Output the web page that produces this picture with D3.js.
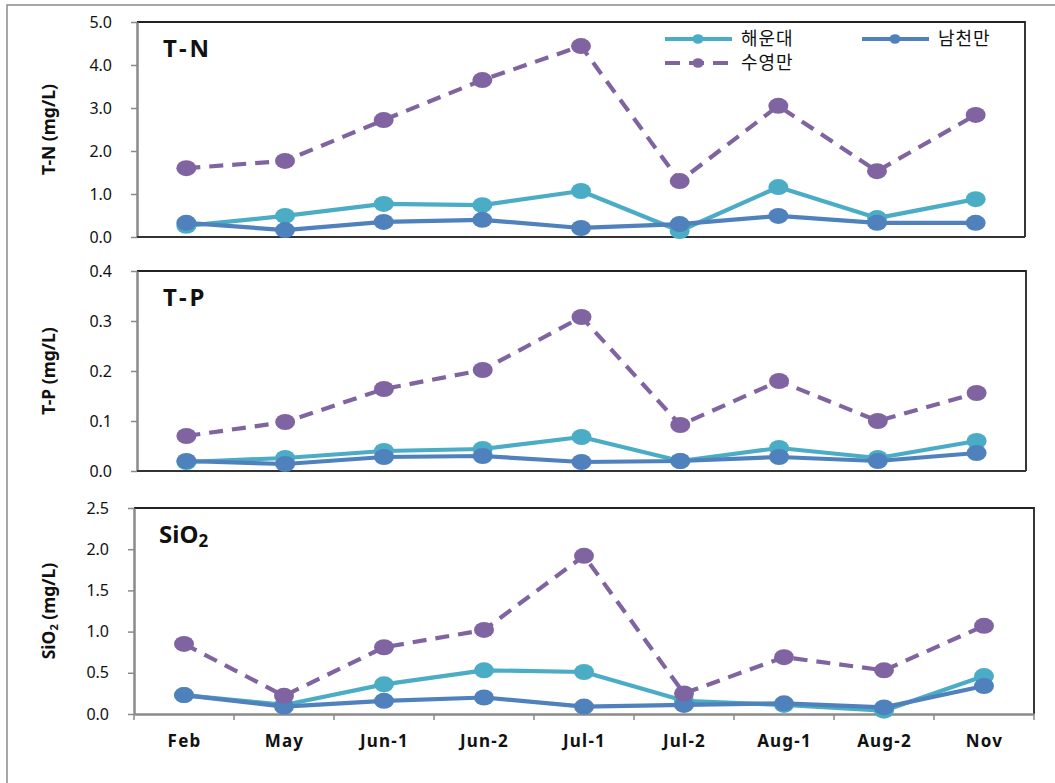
<!DOCTYPE html>
<html><head><meta charset="utf-8">
<script src="https://cdn.jsdelivr.net/npm/d3@7"></script>
<style>body{margin:0;background:#fff}svg{display:block}</style>
</head><body>
<svg id="chart" width="1055" height="783"></svg>
<script>
// ---------- data ----------
const categories = ["Feb","May","Jun-1","Jun-2","Jul-1","Jul-2","Aug-1","Aug-2","Nov"];
const seriesNames = ["해운대","남천만","수영만"];

const tnHaeundae = [0.26,0.49,0.77,0.74,1.07,0.14,1.16,0.44,0.88];
const tnNamcheon = [0.33,0.16,0.35,0.40,0.21,0.30,0.49,0.33,0.33];
const tnSuyeong  = [1.60,1.77,2.72,3.65,4.44,1.30,3.05,1.53,2.84];

const tpHaeundae = [0.018,0.026,0.040,0.044,0.068,0.020,0.046,0.026,0.060];
const tpNamcheon = [0.020,0.014,0.028,0.030,0.018,0.020,0.028,0.020,0.036];
const tpSuyeong  = [0.070,0.098,0.164,0.202,0.308,0.092,0.180,0.100,0.156];

const sioHaeundae = [0.23,0.11,0.36,0.53,0.51,0.16,0.11,0.04,0.46];
const sioNamcheon = [0.23,0.09,0.16,0.20,0.09,0.11,0.13,0.08,0.34];
const sioSuyeong  = [0.85,0.22,0.81,1.02,1.92,0.25,0.69,0.53,1.07];

const tnTicks  = [0,1,2,3,4,5];
const tpTicks  = [0,0.1,0.2,0.3,0.4];
const sioTicks = [0,0.5,1.0,1.5,2.0,2.5];

// ---------- styles / layout ----------
const colors = {"해운대":"#4BACC6","남천만":"#4F81BD","수영만":"#8064A2"};
const dashed = {"해운대":null,"남천만":null,"수영만":"14,9"};
const numFont = "'Noto Sans', 'DejaVu Sans', sans-serif";
const krFont = "'Noto Sans CJK KR', 'Noto Sans', sans-serif";

const panels = [
  {name:"T-N", unit:"(mg/L)", sub:false, data:[tnHaeundae,tnNamcheon,tnSuyeong], ticks:tnTicks,
   box:{l:137,r:1025,t:22,b:237}, xlabels:false, legend:true, bottomAxisColor:"#333"},
  {name:"T-P", unit:"(mg/L)", sub:false, data:[tpHaeundae,tpNamcheon,tpSuyeong], ticks:tpTicks,
   box:{l:137,r:1026,t:271,b:471}, xlabels:false, legend:false, bottomAxisColor:"#333"},
  {name:"SiO", unit:"(mg/L)", sub:true, data:[sioHaeundae,sioNamcheon,sioSuyeong], ticks:sioTicks,
   box:{l:134,r:1034,t:508,b:714}, xlabels:true, legend:false, bottomAxisColor:"#8a8a8a"}
];

const svg = d3.select("#chart");

// outer frame
svg.append("rect").attr("x",7).attr("y",5).attr("width",1060).attr("height",800)
  .attr("fill","none").attr("stroke","#8a8a8a").attr("stroke-width",1.5);

panels.forEach(p => {
  const B = p.box;
  const x = d3.scalePoint().domain(categories).range([B.l,B.r]).padding(0.5);
  const y = d3.scaleLinear().domain([p.ticks[0], p.ticks[p.ticks.length-1]]).range([B.b,B.t]);
  const g = svg.append("g");

  // top and right border
  g.append("path").attr("d",`M${B.l},${B.t}H${B.r}V${B.b}`)
    .attr("fill","none").attr("stroke","#222").attr("stroke-width",1.8);

  // y axis
  const yAxis = d3.axisLeft(y).tickValues(p.ticks).tickFormat(d3.format(".1f")).tickSizeInner(6).tickSizeOuter(0).tickPadding(19);
  const ya = g.append("g").attr("transform",`translate(${B.l},0)`).call(yAxis);
  ya.select(".domain").attr("stroke","#8a8a8a").attr("stroke-width",2.5);
  ya.selectAll(".tick line").attr("stroke","#8a8a8a").attr("stroke-width",1.5);
  ya.selectAll(".tick text").attr("font-family",numFont).attr("font-size",16).attr("fill","#111");

  // x axis
  const xa = g.append("g").attr("transform",`translate(0,${B.b})`);
  if (p.xlabels) {
    const band = d3.scaleBand().domain(categories).range([B.l,B.r]);
    const xAxis = d3.axisBottom(x).tickSize(0).tickPadding(21);
    xa.call(xAxis);
    xa.select(".domain").attr("stroke",p.bottomAxisColor).attr("stroke-width",2.5);
    xa.selectAll(".tick text").attr("font-family",numFont).attr("font-size",17).attr("font-weight","bold")
      .attr("fill","#111").attr("letter-spacing","1.2px");
    const bounds = categories.map(c => band(c)).concat([band(categories[categories.length-1]) + band.bandwidth()]);
    xa.selectAll("line.bt").data(bounds).join("line").attr("class","bt")
      .attr("x1",d=>d).attr("x2",d=>d).attr("y1",0).attr("y2",6)
      .attr("stroke","#8a8a8a").attr("stroke-width",1.5);
  } else {
    xa.append("line").attr("x1",B.l).attr("x2",B.r).attr("y1",0).attr("y2",0)
      .attr("stroke",p.bottomAxisColor).attr("stroke-width",2.2);
  }

  // y title
  const cy = (B.t+B.b)/2;
  const yt = g.append("text").attr("transform",`translate(55,${cy}) rotate(-90)`)
    .attr("text-anchor","middle").attr("font-family",numFont).attr("font-weight","bold").attr("font-size",17.5).attr("fill","#111");
  if (p.sub) {
    yt.append("tspan").text("SiO");
    yt.append("tspan").text("2").attr("font-size",11).attr("dy",3);
    yt.append("tspan").text(" (mg/L)").attr("dy",-3);
  } else {
    yt.text(p.name + " " + p.unit);
  }

  // panel label
  const pl = g.append("text").attr("x", p.sub ? 159 : 163).attr("y", B.t+35)
    .attr("font-family",numFont).attr("font-weight","bold").attr("font-size",24).attr("fill","#111");
  if (p.sub) {
    pl.append("tspan").text("SiO");
    pl.append("tspan").text("2").attr("font-size",17).attr("dy",4);
  } else {
    pl.attr("letter-spacing","3px").text(p.name);
  }

  // series
  const line = d3.line().x((d,i)=>x(categories[i])).y(d=>y(d));
  seriesNames.forEach((s,si) => {
    const vals = p.data[si];
    const sg = g.append("g");
    sg.append("path").datum(vals).attr("d",line).attr("fill","none")
      .attr("stroke",colors[s]).attr("stroke-width",4.2)
      .attr("stroke-dasharray",dashed[s]).attr("stroke-linejoin","round");
    sg.selectAll("ellipse").data(vals).join("ellipse")
      .attr("cx",(d,i)=>x(categories[i])).attr("cy",d=>y(d))
      .attr("rx",10).attr("ry",8).attr("fill",colors[s]);
  });

  // legend
  if (p.legend) {
    const items = [
      {s:"해운대", x0:665, y0:39},
      {s:"남천만", x0:862, y0:39},
      {s:"수영만", x0:665, y0:63}
    ];
    const lg = g.append("g");
    items.forEach(it => {
      lg.append("line").attr("x1",it.x0).attr("x2",it.x0+67).attr("y1",it.y0).attr("y2",it.y0)
        .attr("stroke",colors[it.s]).attr("stroke-width",4.2)
        .attr("stroke-dasharray",dashed[it.s] ? "15,9" : null);
      lg.append("ellipse").attr("cx",it.x0+33).attr("cy",it.y0).attr("rx",5.5).attr("ry",4.8).attr("fill",colors[it.s]);
      lg.append("text").attr("x",it.x0+76).attr("y",it.y0).attr("dy","0.36em")
        .attr("font-family",krFont).attr("font-size",18).attr("fill","#111").attr("letter-spacing","1px").text(it.s);
    });
  }
});
</script>
</body></html>
